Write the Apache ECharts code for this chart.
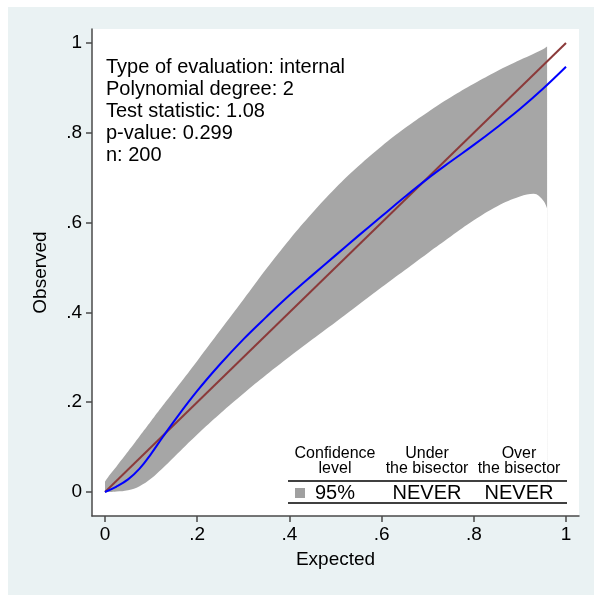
<!DOCTYPE html>
<html>
<head>
<meta charset="utf-8">
<script src="https://cdn.jsdelivr.net/npm/echarts@6/dist/echarts.min.js"></script>
<style>
html,body{margin:0;padding:0;background:#fff;}
#chart{width:594px;height:595px;}
</style>
</head>
<body>
<div id="chart"></div>
<script>
// ---- data ----
var tickValues = [0, 0.2, 0.4, 0.6, 0.8, 1];
var tickLabels = ['0', '.2', '.4', '.6', '.8', '1'];

var bandX     = [0, 0.01, 0.025, 0.05, 0.075, 0.1, 0.125, 0.15, 0.2, 0.25, 0.3, 0.35, 0.4, 0.45, 0.5, 0.55, 0.6, 0.65, 0.7, 0.75, 0.8, 0.85, 0.9, 0.93, 0.95, 0.959];
var bandLower = [0, 0, 0.001, 0.004, 0.013, 0.030, 0.053, 0.078, 0.128, 0.175, 0.219, 0.261, 0.301, 0.340, 0.378, 0.417, 0.456, 0.494, 0.532, 0.569, 0.605, 0.636, 0.658, 0.664, 0.650, 0.632];
var bandUpper = [0.023, 0.038, 0.057, 0.090, 0.124, 0.158, 0.192, 0.225, 0.292, 0.360, 0.428, 0.497, 0.562, 0.622, 0.677, 0.726, 0.770, 0.810, 0.846, 0.879, 0.909, 0.937, 0.962, 0.976, 0.986, 0.992];

var fitX = [0, 0.025, 0.05, 0.075, 0.1, 0.125, 0.15, 0.2, 0.25, 0.3, 0.35, 0.4, 0.45, 0.5, 0.55, 0.6, 0.65, 0.7, 0.75, 0.8, 0.85, 0.9, 0.95, 1];
var fitY = [0, 0.012, 0.028, 0.052, 0.085, 0.122, 0.158, 0.225, 0.285, 0.340, 0.390, 0.438, 0.483, 0.527, 0.571, 0.614, 0.657, 0.698, 0.736, 0.773, 0.812, 0.853, 0.898, 0.947];

var refX = [0, 1];
var refY = [0, 1];

var infoLines = ['Type of evaluation: internal', 'Polynomial degree: 2', 'Test statistic: 1.08', 'p-value: 0.299', 'n: 200'];
var tableHead = ['Confidence\nlevel', 'Under\nthe bisector', 'Over\nthe bisector'];
var tableRow = ['95%', 'NEVER', 'NEVER'];

// ---- build ----
var FONT = '"Liberation Sans", Arial, Helvetica, sans-serif';
var chart = echarts.init(document.getElementById('chart'), null, {renderer: 'canvas'});

function pairs(xs, ys) { return xs.map(function (x, i) { return [x, ys[i]]; }); }

function lab(v) {
  for (var i = 0; i < tickValues.length; i++) if (Math.abs(tickValues[i] - v) < 1e-9) return tickLabels[i];
  return '';
}

var axisCol = '#4a4a4a';
var colCenters = [335, 427, 519];

var graphics = [
  {type: 'rect', z: -10, silent: true, shape: {x: 8, y: 7, width: 586, height: 588}, style: {fill: '#eaf2f3'}},
  {type: 'text', x: 106, y: 56, z: 10, style: {text: infoLines.join('\n'), font: '20px ' + FONT, lineHeight: 22, fill: '#000'}},
  {type: 'line', z: 10, shape: {x1: 288, y1: 481, x2: 567, y2: 481}, style: {stroke: '#000', lineWidth: 1.6}},
  {type: 'line', z: 10, shape: {x1: 288, y1: 503, x2: 567, y2: 503}, style: {stroke: '#000', lineWidth: 1.6}},
  {type: 'rect', z: 10, shape: {x: 295, y: 488, width: 10, height: 10}, style: {fill: '#a0a0a0'}}
];
tableHead.forEach(function (t, i) {
  graphics.push({type: 'text', z: 10, x: colCenters[i], y: 461, style: {text: t, font: '16px ' + FONT, lineHeight: 15, fill: '#000', align: 'center', verticalAlign: 'middle'}});
});
tableRow.forEach(function (t, i) {
  graphics.push({type: 'text', z: 10, x: colCenters[i], y: 493, style: {text: t, font: '20px ' + FONT, fill: '#000', align: 'center', verticalAlign: 'middle'}});
});

var option = {
  backgroundColor: '#ffffff',
  animation: false,
  grid: {left: 92, top: 29, width: 487, height: 487, show: true, backgroundColor: '#ffffff', borderWidth: 0, containLabel: false},
  xAxis: {
    type: 'value', min: -0.0282, max: 1.0282, z: 5,
    name: 'Expected', nameLocation: 'middle', nameGap: 34,
    nameTextStyle: {fontFamily: FONT, fontSize: 19, color: '#000'},
    axisLine: {show: true, onZero: false, lineStyle: {color: axisCol, width: 1.5}},
    axisTick: {show: true, customValues: tickValues, length: 6, lineStyle: {color: axisCol, width: 1.5}},
    axisLabel: {customValues: tickValues, formatter: lab, margin: 9, fontFamily: FONT, fontSize: 19, color: '#000'},
    splitLine: {show: false}
  },
  yAxis: {
    type: 'value', min: -0.0535, max: 1.0312, z: 5,
    name: 'Observed', nameLocation: 'middle', nameGap: 42, nameRotate: 90,
    nameTextStyle: {fontFamily: FONT, fontSize: 19, color: '#000'},
    axisLine: {show: true, onZero: false, lineStyle: {color: axisCol, width: 1.5}},
    axisTick: {show: true, customValues: tickValues, length: 6, lineStyle: {color: axisCol, width: 1.5}},
    axisLabel: {customValues: tickValues, formatter: lab, margin: 10, fontFamily: FONT, fontSize: 19, color: '#000'},
    splitLine: {show: false}
  },
  graphic: graphics,
  series: [
    {type: 'line', name: 'band upper', data: pairs(bandX, bandUpper), smooth: 0.4, showSymbol: false, silent: true,
     lineStyle: {width: 0, opacity: 0}, areaStyle: {color: '#a6a6a6', opacity: 1, origin: 0}, z: 1},
    {type: 'line', name: 'band lower', data: pairs(bandX, bandLower), smooth: 0.4, showSymbol: false, silent: true,
     lineStyle: {width: 0, opacity: 0}, areaStyle: {color: '#ffffff', opacity: 1, origin: 0}, z: 1.5},
    {type: 'line', name: 'bisector', data: pairs(refX, refY), showSymbol: false, silent: true,
     lineStyle: {color: '#8b3a3a', width: 2}, z: 3},
    {type: 'line', name: 'fit', data: pairs(fitX, fitY), smooth: 0.4, showSymbol: false, silent: true,
     lineStyle: {color: '#0000ff', width: 2}, z: 4}
  ]
};
chart.setOption(option);
</script>
</body>
</html>
